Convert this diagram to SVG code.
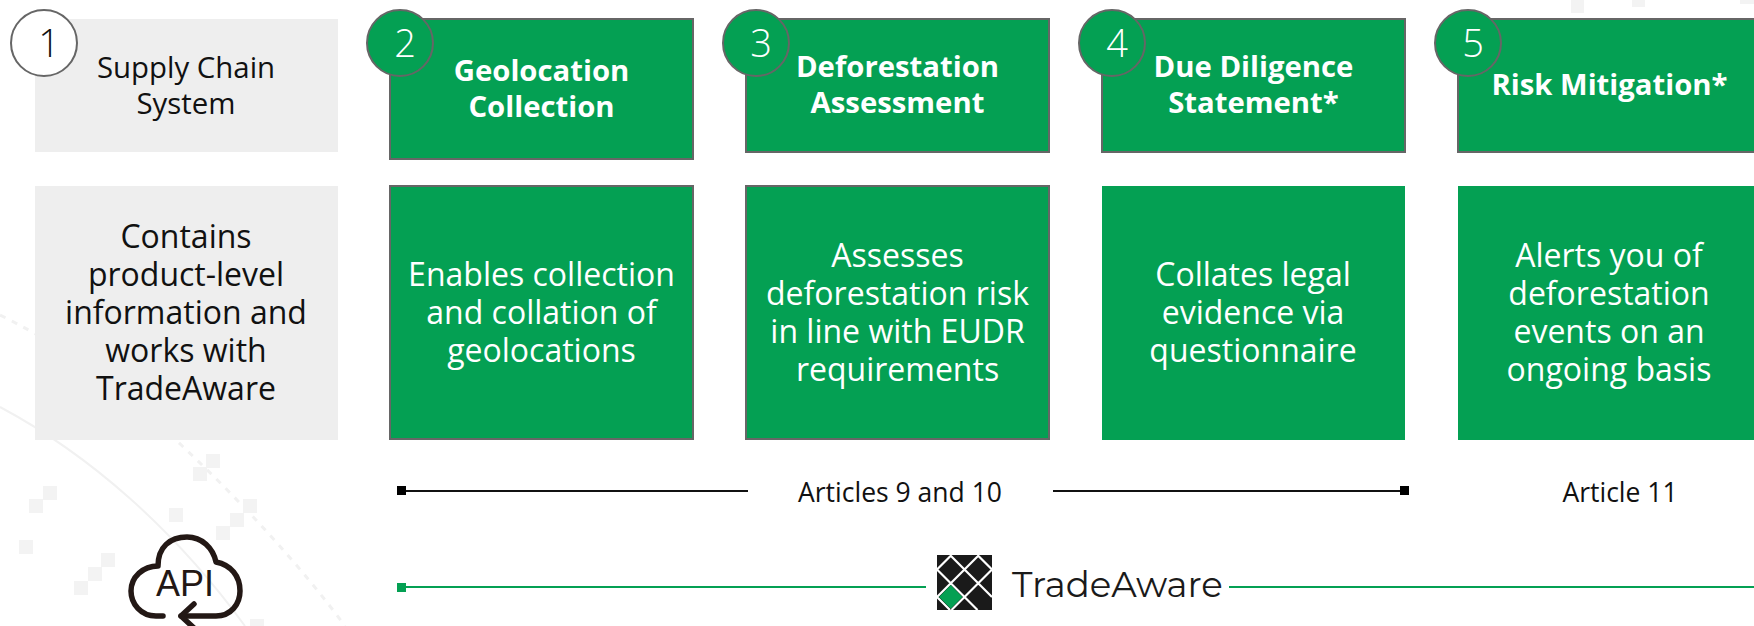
<svg xmlns="http://www.w3.org/2000/svg" width="1754" height="626" viewBox="0 0 1754 626">
<style>
.t{font-family:"Open Sans","Noto Sans",sans-serif;text-anchor:middle}
.b{font-size:32px}
.h{font-size:29.300px;font-weight:700;fill:#fff}
.w{fill:#fff}
.k{fill:#111}
.n{font-size:38px;font-weight:300}
.g{fill:#04a053;stroke:#666;stroke-width:2}
.f{fill:#04a053}
.e{fill:#eee}
.s{fill:#f3f3f3}
.c{stroke:#666;stroke-width:2}
.a{font-size:26.500px;fill:#111}
</style>
<g id="background">
<path d="M0 407C90 455 175 530 245 626" fill="none" stroke="#f1f1f1" stroke-width="2"/>
<path d="M0 315C80 355 130 395 178 442C240 500 300 565 345 626" fill="none" stroke="#f1f1f1" stroke-width="3" stroke-dasharray="6 7"/>
<rect class="s" x="206" y="454" width="14" height="14"/><rect class="s" x="193" y="467" width="14" height="14"/>
<rect class="s" x="43" y="486" width="14" height="14"/><rect class="s" x="29" y="499" width="14" height="14"/>
<rect class="s" x="169" y="508" width="14" height="14"/><rect class="s" x="243" y="499" width="14" height="14"/>
<rect class="s" x="230" y="513" width="14" height="14"/><rect class="s" x="216" y="526" width="14" height="14"/>
<rect class="s" x="19" y="540" width="14" height="14"/><rect class="s" x="101" y="553" width="14" height="14"/>
<rect class="s" x="88" y="567" width="14" height="14"/><rect class="s" x="74" y="581" width="14" height="14"/>
<rect class="s" x="250" y="619" width="14" height="14"/>
<rect class="s" x="1571" y="-1" width="13" height="14"/><rect class="s" x="1632" y="-6" width="13" height="13"/><rect class="s" x="1740" y="-9" width="14" height="13"/>
</g>
<g id="node-1">
<rect class="e" x="35" y="19" width="303" height="133"/>
<circle cx="44" cy="43" r="33" fill="#fff" class="c"/>
<text class="t n k" x="49" y="57">1</text>
<text class="t k" x="186" y="78" style="font-size:29.400px">Supply Chain</text>
<text class="t k" x="186" y="114" style="font-size:29.400px">System</text>
</g>
<g id="node-2">
<rect class="g" x="390" y="19" width="303" height="140"/>
<circle cx="400" cy="43" r="33" class="f c"/>
<text class="t n w" x="405" y="57">2</text>
<text class="t h" x="541.500" y="81">Geolocation</text>
<text class="t h" x="541.500" y="117">Collection</text>
</g>
<g id="node-3">
<rect class="g" x="746" y="19" width="303" height="133"/>
<circle cx="756" cy="43" r="33" class="f c"/>
<text class="t n w" x="761" y="57">3</text>
<text class="t h" x="897.500" y="77">Deforestation</text>
<text class="t h" x="897.500" y="113">Assessment</text>
</g>
<g id="node-4">
<rect class="g" x="1102" y="19" width="303" height="133"/>
<circle cx="1112" cy="43" r="33" class="f c"/>
<text class="t n w" x="1117" y="57">4</text>
<text class="t h" x="1253.500" y="77">Due Diligence</text>
<text class="t h" x="1253.500" y="113">Statement*</text>
</g>
<g id="node-5">
<rect class="g" x="1458" y="19" width="304" height="133"/>
<circle cx="1468" cy="43" r="33" class="f c"/>
<text class="t n w" x="1473" y="57">5</text>
<text class="t h" x="1609.500" y="95">Risk Mitigation*</text>
</g>
<g id="desc-1">
<rect class="e" x="35" y="186" width="303" height="254"/>
<text class="t b k" x="186" y="248">Contains</text>
<text class="t b k" x="186" y="286">product-level</text>
<text class="t b k" x="186" y="324">information and</text>
<text class="t b k" x="186" y="362">works with</text>
<text class="t b k" x="186" y="400">TradeAware</text>
</g>
<g id="desc-2">
<rect class="g" x="390" y="186" width="303" height="253"/>
<text class="t b w" x="541.500" y="286">Enables collection</text>
<text class="t b w" x="541.500" y="324">and collation of</text>
<text class="t b w" x="541.500" y="362">geolocations</text>
</g>
<g id="desc-3">
<rect class="g" x="746" y="186" width="303" height="253"/>
<text class="t b w" x="897.500" y="267">Assesses</text>
<text class="t b w" x="897.500" y="305">deforestation risk</text>
<text class="t b w" x="897.500" y="343">in line with EUDR</text>
<text class="t b w" x="897.500" y="381">requirements</text>
</g>
<g id="desc-4">
<rect class="f" x="1102" y="186" width="303" height="254"/>
<text class="t b w" x="1253" y="286">Collates legal</text>
<text class="t b w" x="1253" y="324">evidence via</text>
<text class="t b w" x="1253" y="362">questionnaire</text>
</g>
<g id="desc-5">
<rect class="f" x="1458" y="186" width="296" height="254"/>
<text class="t b w" x="1609" y="267">Alerts you of</text>
<text class="t b w" x="1609" y="305">deforestation</text>
<text class="t b w" x="1609" y="343">events on an</text>
<text class="t b w" x="1609" y="381">ongoing basis</text>
</g>
<g id="connectors">
<path d="M401 491H748M1053 491H1400" stroke="#111" stroke-width="2" fill="none"/>
<rect x="397" y="486" width="9" height="9" fill="#000"/><rect x="1400" y="486" width="9" height="9" fill="#000"/>
<path d="M401 587H926M1229 587H1754" stroke="#04a053" stroke-width="2" fill="none"/>
<rect x="397" y="583" width="9" height="9" class="f"/>
</g>
<g id="labels">
<text class="t a" x="900" y="502">Articles 9 and 10</text>
<text class="t a" x="1620" y="502">Article 11</text>
</g>
<g id="logo">
<rect x="937" y="555" width="55" height="55" fill="#1a1a1a"/>
<path d="M937 597L979 555M951.500 610L992 569.500M937 569.500L951.500 555M937 597L950 610M937 569.500L977.500 610M950 555L992 597M977.500 555L992 569.500" stroke="#fff" stroke-width="2.200" fill="none"/>
<polygon points="950.750,585 962.500,597 950.750,608.800 939,597" class="f"/>
<text x="1012" y="597" font-family="Montserrat,Lato,'Liberation Sans',sans-serif" font-size="35.600" fill="#1a1a1a">TradeAware</text>
</g>
<g id="api" fill="none" stroke="#231815" stroke-width="5.500" stroke-linecap="round" stroke-linejoin="round">
<path d="M163 616H156C141 616 131 604 131 591C131 577 143 566 158 566C158 547 170 537 187 537C202 537 213 548 216 562C231 565 240 576 240 591C240 604 231 616 216 616H181"/>
<path d="M194 604L181 616L194 628"/>
<text x="185" y="596" stroke="none" fill="#231815" font-family="'Liberation Sans',sans-serif" font-size="36" text-anchor="middle">API</text>
</g>
</svg>
